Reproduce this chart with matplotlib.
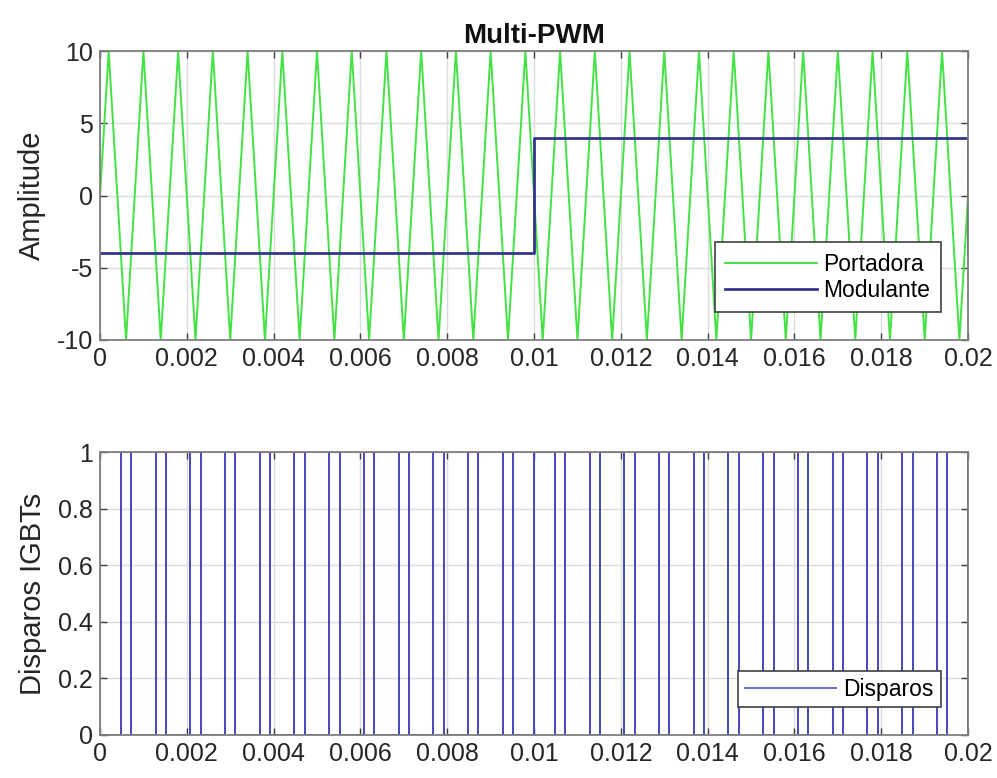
import numpy as np
import matplotlib
matplotlib.use("Agg")
from matplotlib import pyplot as plt

# vertices of the triangular carrier (10 / -10 peaks, 0.8 ms period)
portadora_t = [0, 0.0002, 0.0006, 0.0010, 0.0014, 0.0018, 0.0022, 0.0026, 0.0030, 0.0034,
               0.0038, 0.0042, 0.0046, 0.0050, 0.0054, 0.0058, 0.0062, 0.0066, 0.0070,
               0.0074, 0.0078, 0.0082, 0.0086, 0.0090, 0.0094, 0.0098, 0.0102, 0.0106,
               0.0110, 0.0114, 0.0118, 0.0122, 0.0126, 0.0130, 0.0134, 0.0138, 0.0142,
               0.0146, 0.0150, 0.0154, 0.0158, 0.0162, 0.0166, 0.0170, 0.0174, 0.0178,
               0.0182, 0.0186, 0.0190, 0.0194, 0.0198, 0.02]
portadora_y = [0] + [10, -10] * 25 + [0]

# modulating square signal
modulante_t = [0, 0.01, 0.01, 0.02, 0.02]
modulante_y = [-4, -4, 4, 4, -4]

# switching instants of the gate signal (starts at 0, toggles at each edge)
disparos_bordes = [0.00048, 0.00072, 0.00128, 0.00152, 0.00208, 0.00232, 0.00288, 0.00312,
                   0.00368, 0.00392, 0.00448, 0.00472, 0.00528, 0.00552, 0.00608, 0.00632,
                   0.00688, 0.00712, 0.00768, 0.00792, 0.00848, 0.00872, 0.00928, 0.00952,
                   0.01,
                   0.01048, 0.01072, 0.01128, 0.01152, 0.01208, 0.01232, 0.01288, 0.01312,
                   0.01368, 0.01392, 0.01448, 0.01472, 0.01528, 0.01552, 0.01608, 0.01632,
                   0.01688, 0.01712, 0.01768, 0.01792, 0.01848, 0.01872, 0.01928, 0.01952,
                   0.02]
disparos_inicio = 0

xticks = [0, 0.002, 0.004, 0.006, 0.008, 0.01, 0.012, 0.014, 0.016, 0.018, 0.02]
xticklabels = ['0', '0.002', '0.004', '0.006', '0.008', '0.01', '0.012', '0.014', '0.016', '0.018', '0.02']

plt.rcParams['font.family'] = ['Liberation Sans', 'DejaVu Sans']
plt.rcParams['axes.unicode_minus'] = False

#build the step signal from the edges
dt = [0]
dy = [disparos_inicio]
estado = disparos_inicio
for b in disparos_bordes:
    dt += [b, b]
    dy += [estado, 1 - estado]
    estado = 1 - estado

gris = '#7f7f7f'
texto = '#262626'

def estilo(ax):
    for s in ax.spines.values():
        s.set_color(gris)
        s.set_linewidth(1.3)
        s.set_zorder(5)
    ax.tick_params(direction='in', top=True, right=True, length=5, width=1,
                   color='#404040', labelsize=18, labelcolor=texto, pad=5)
    ax.grid(True, color='#dcdcdc', linewidth=1)
    ax.set_axisbelow(True)
    ax.set_xlim(0, 0.02)
    ax.set_xticks(xticks)
    ax.set_xticklabels(xticklabels)

fig = plt.figure(figsize=(9.97, 7.78), dpi=100)
ax1 = fig.add_axes([0.1003, 0.563, 0.8707, 0.3714])
ax2 = fig.add_axes([0.1003, 0.0553, 0.8707, 0.3637])

ax1.plot(portadora_t, portadora_y, color='#44e244', linewidth=1.4, label='Portadora')
ax1.plot(modulante_t, modulante_y, color='#34348c', linewidth=2, label='Modulante')
estilo(ax1)
ax1.set_ylim(-10, 10)
ax1.set_yticks([-10, -5, 0, 5, 10])
ax1.set_ylabel('Amplitude', fontsize=21, color=texto, labelpad=8)
ax1.set_title('Multi-PWM', fontsize=20, fontweight='bold', color='#111111', pad=6)
leg = ax1.legend(loc='lower right', fontsize=16.5, handlelength=4.0, borderaxespad=1.2,
                 fancybox=False, framealpha=1, edgecolor='#404040', borderpad=0.45,
                 labelspacing=0.15, handletextpad=0.3)
leg.get_frame().set_linewidth(1.2)

ax2.plot(dt, dy, color='#4646c0', linewidth=1.4, label='Disparos')
estilo(ax2)
ax2.set_ylim(0, 1)
ax2.set_yticks([0, 0.2, 0.4, 0.6, 0.8, 1])
ax2.set_yticklabels(['0', '0.2', '0.4', '0.6', '0.8', '1'])
ax2.set_ylabel('Disparos IGBTs', fontsize=21, color=texto, labelpad=8)
leg2 = ax2.legend(loc='lower right', fontsize=16.5, handlelength=4.0, borderaxespad=1.2,
                  fancybox=False, framealpha=1, edgecolor='#404040', borderpad=0.3,
                  handletextpad=0.3)
leg2.get_frame().set_linewidth(1.2)
for l in leg2.get_lines():
    l.set_color('#6a6ae0')

plt.savefig('out.png')
